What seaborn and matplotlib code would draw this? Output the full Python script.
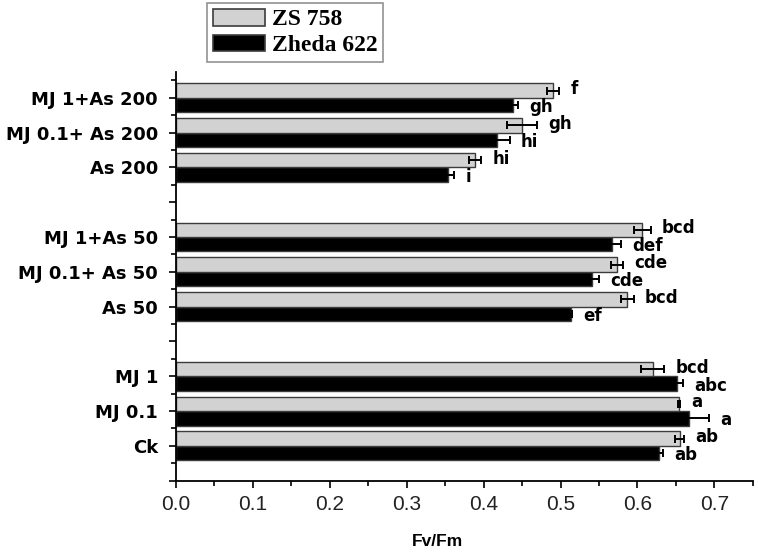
import numpy as np
import pandas as pd
import matplotlib
matplotlib.use('Agg')
import matplotlib.pyplot as plt
from matplotlib.patches import Patch
import seaborn as sns

# data, listed from the bottom of the chart to the top
categories = ['Ck', 'MJ 0.1', 'MJ 1',
              'As 50', 'MJ 0.1+ As 50', 'MJ 1+As 50',
              'As 200', 'MJ 0.1+ As 200', 'MJ 1+As 200']
zs758 = [0.655, 0.654, 0.620, 0.587, 0.573, 0.606, 0.389, 0.450, 0.490]
zs758_err = [0.006, 0.001, 0.015, 0.008, 0.008, 0.011, 0.008, 0.019, 0.008]
zheda622 = [0.628, 0.667, 0.651, 0.513, 0.541, 0.567, 0.353, 0.417, 0.438]
zheda622_err = [0.005, 0.026, 0.008, 0.002, 0.009, 0.012, 0.009, 0.017, 0.007]
letters_zs = ['ab', 'a', 'bcd', 'bcd', 'cde', 'bcd', 'hi', 'gh', 'f']
letters_zh = ['ab', 'a', 'abc', 'ef', 'cde', 'def', 'i', 'hi', 'gh']
cultivars = ['ZS 758', 'Zheda 622']

# three groups of three treatments, one empty slot between groups
pos = [4 * (i // 3) + i % 3 for i in range(len(categories))]

df = pd.DataFrame({
    'pos': pos + pos,
    'Fv/Fm': zs758 + zheda622,
    'cultivar': [cultivars[0]] * len(pos) + [cultivars[1]] * len(pos),
})

gray = '#d2d2d2'
colors = {'ZS 758': gray, 'Zheda 622': 'black'}
bar_w = 0.83

fig = plt.figure(figsize=(7.58, 5.54), dpi=100)
ax = fig.add_axes([0.2322, 0.1323, 0.761, 0.7384])

sns.barplot(data=df, x='Fv/Fm', y='pos', hue='cultivar',
            hue_order=['Zheda 622', 'ZS 758'], palette=colors,
            orient='y', native_scale=True, width=bar_w, gap=0,
            errorbar=None, edgecolor='#3c3c3c', linewidth=1,
            legend=False, ax=ax)

# error bars and significance letters
off = bar_w / 4
y_zs = np.array(pos) + off
y_zh = np.array(pos) - off
ax.errorbar(zs758, y_zs, xerr=zs758_err, fmt='none', ecolor='black',
            elinewidth=1.4, capsize=3, capthick=1.4, zorder=5)
ax.errorbar(zheda622, y_zh, xerr=zheda622_err, fmt='none', ecolor='black',
            elinewidth=1.4, capsize=3, capthick=1.4, zorder=5)

for v, e, y, t in zip(zs758, zs758_err, y_zs, letters_zs):
    ax.annotate(t, xy=(v + e, y), xytext=(8, 1), textcoords='offset points',
                ha='left', va='center', fontsize=12, fontweight='bold',
                family='DejaVu Sans')
for v, e, y, t in zip(zheda622, zheda622_err, y_zh, letters_zh):
    ax.annotate(t, xy=(v + e, y), xytext=(8, -1.5), textcoords='offset points',
                ha='left', va='center', fontsize=12, fontweight='bold',
                family='DejaVu Sans')

# axes
ax.set_xlim(0, 0.75)
ax.set_ylim(-1, 10.75)
ax.set_xticks(np.arange(0, 0.71, 0.1))
ax.set_xticks(np.arange(0.05, 0.76, 0.1), minor=True)
ax.set_xticklabels([f'{t:.1f}' for t in np.arange(0, 0.71, 0.1)],
                   fontsize=15, family='Liberation Sans', color='#222222')

yt = np.arange(-1, 11)
ax.set_yticks(yt)
ax.set_yticks(np.arange(-0.5, 10.6, 1), minor=True)
ylabels = ['' for _ in yt]
for p, c in zip(pos, categories):
    ylabels[p + 1] = c
ax.set_yticklabels(ylabels, fontsize=13, fontweight='bold', family='DejaVu Sans')

ax.tick_params(axis='both', which='major', direction='out', length=5, width=1.2)
ax.tick_params(axis='both', which='minor', direction='out', length=3.5, width=1.2)
ax.tick_params(axis='y', which='major', pad=8)
ax.tick_params(axis='x', which='major', pad=5)

ax.set_ylabel('')
ax.set_xlabel('Fv/Fm', fontsize=12.5, fontweight='bold', family='Liberation Sans')
ax.xaxis.set_label_coords(0.4536, -0.13)

sns.despine(ax=ax)
for s in ['left', 'bottom']:
    ax.spines[s].set_linewidth(1.3)

# legend above the plot
handles = [Patch(facecolor=colors[c], edgecolor='#3c3c3c', linewidth=1.2) for c in cultivars]
leg = fig.legend(handles, cultivars, loc='upper left', bbox_to_anchor=(0.273, 0.995),
                 borderaxespad=0, fancybox=False, edgecolor='#777777',
                 prop={'family': 'Liberation Serif', 'weight': 'bold', 'size': 17},
                 handlelength=2.2, handleheight=0.72, handletextpad=0.3,
                 borderpad=0.25, labelspacing=0.18)
leg.get_frame().set_linewidth(1.2)

fig.savefig('out.png', dpi=100)
